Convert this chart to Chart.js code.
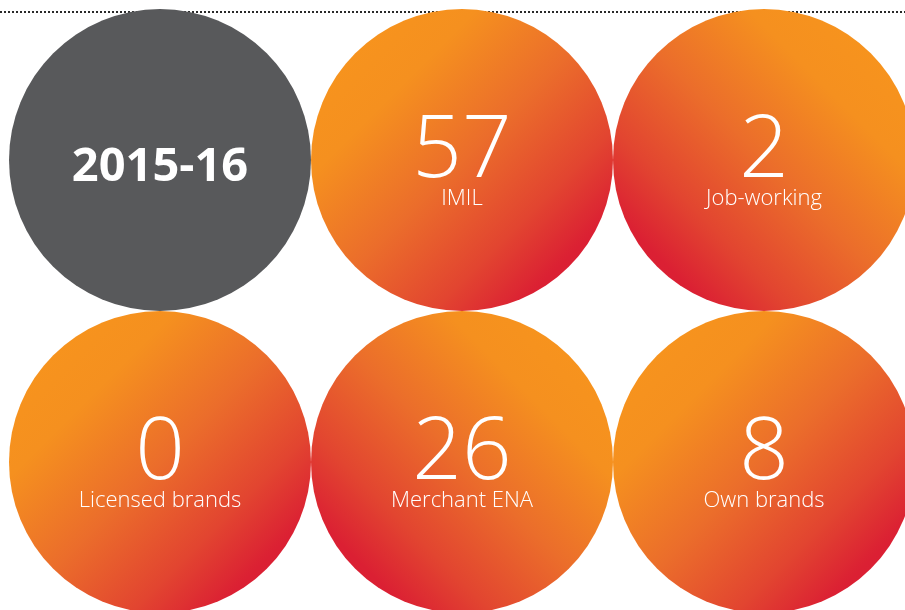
<!DOCTYPE html>
<html>
<head>
<meta charset="utf-8">
<script src="https://cdn.jsdelivr.net/npm/chart.js@4"></script>
<style>
  html, body { margin: 0; padding: 0; background: #ffffff; }
  #wrap { width: 905px; height: 610px; }
</style>
</head>
<body>
<div id="wrap"><canvas id="bubbleChart"></canvas></div>
<script>
// values shown in the circles
const values = ["2015-16", "57", "2", "0", "26", "8"];
const labels = ["", "IMIL", "Job-working", "Licensed brands", "Merchant ENA", "Own brands"];
// grid position of each circle (column, row)
const cols = [0, 1, 2, 0, 1, 2];
const rows = [1, 1, 1, 0, 0, 0];
// gradient direction: 1 = orange top-left, -1 = orange top-right, 0 = plain grey
const flips = [0, 1, -1, 1, -1, 1];

const RADIUS = 151;

function fillFor(ctx) {
  const i = ctx.dataIndex;
  if (flips[i] === 0) return "#58595b";
  const chart = ctx.chart;
  const cx = chart.scales.x ? chart.scales.x.getPixelForValue(cols[i]) : NaN;
  const cy = chart.scales.y ? chart.scales.y.getPixelForValue(rows[i]) : NaN;
  if (!isFinite(cx) || !isFinite(cy)) return "#ec6f2a";
  const d = RADIUS * 0.8;
  const g = chart.ctx.createLinearGradient(
    cx - d * flips[i], cy - d, cx + d * flips[i], cy + d
  );
  g.addColorStop(0, "#f7941d");
  g.addColorStop(0.22, "#f5901f");
  g.addColorStop(0.5, "#eb6d2b");
  g.addColorStop(0.75, "#e24530");
  g.addColorStop(0.92, "#db2033");
  g.addColorStop(1, "#da1e34");
  return g;
}

const textPlugin = {
  id: "circleText",
  beforeDatasetsDraw(chart) {
    const c = chart.ctx;
    c.save();
    c.strokeStyle = "#2a2a2a";
    c.lineWidth = 2;
    c.setLineDash([2, 2]);
    c.beginPath();
    c.moveTo(0, 12);
    c.lineTo(chart.width, 12);
    c.stroke();
    c.restore();
  },
  afterDatasetsDraw(chart) {
    const c = chart.ctx;
    const meta = chart.getDatasetMeta(0);
    c.save();
    c.fillStyle = "#ffffff";
    c.textAlign = "center";
    c.textBaseline = "alphabetic";
    meta.data.forEach((pt, i) => {
      if (flips[i] === 0) {
        c.font = "bold 47px 'Open Sans'";
        c.fillText(values[i], pt.x, pt.y + 21);
      } else {
        c.font = "300 87px 'Open Sans'";
        c.fillText(values[i], pt.x, pt.y + 17);
        c.font = "300 22px 'Open Sans'";
        c.fillText(labels[i], pt.x, pt.y + 45);
      }
    });
    c.restore();
  }
};

new Chart(document.getElementById("bubbleChart"), {
  type: "scatter",
  data: {
    datasets: [
      {
        data: cols.map((x, i) => ({ x: x, y: rows[i] })),
        pointRadius: RADIUS,
        pointHoverRadius: RADIUS,
        borderWidth: 0,
        clip: false,
        backgroundColor: fillFor,
      },
    ],
  },
  options: {
    responsive: true,
    maintainAspectRatio: false,
    animation: false,
    layout: { padding: 0, autoPadding: false },
    plugins: { legend: { display: false }, tooltip: { enabled: false } },
    scales: {
      x: { type: "linear", display: false, min: -160 / 302, max: 745 / 302 },
      y: { type: "linear", display: false, min: -148 / 302, max: 1 + 160 / 302 },
    },
  },
  plugins: [textPlugin],
});
</script>
</body>
</html>
